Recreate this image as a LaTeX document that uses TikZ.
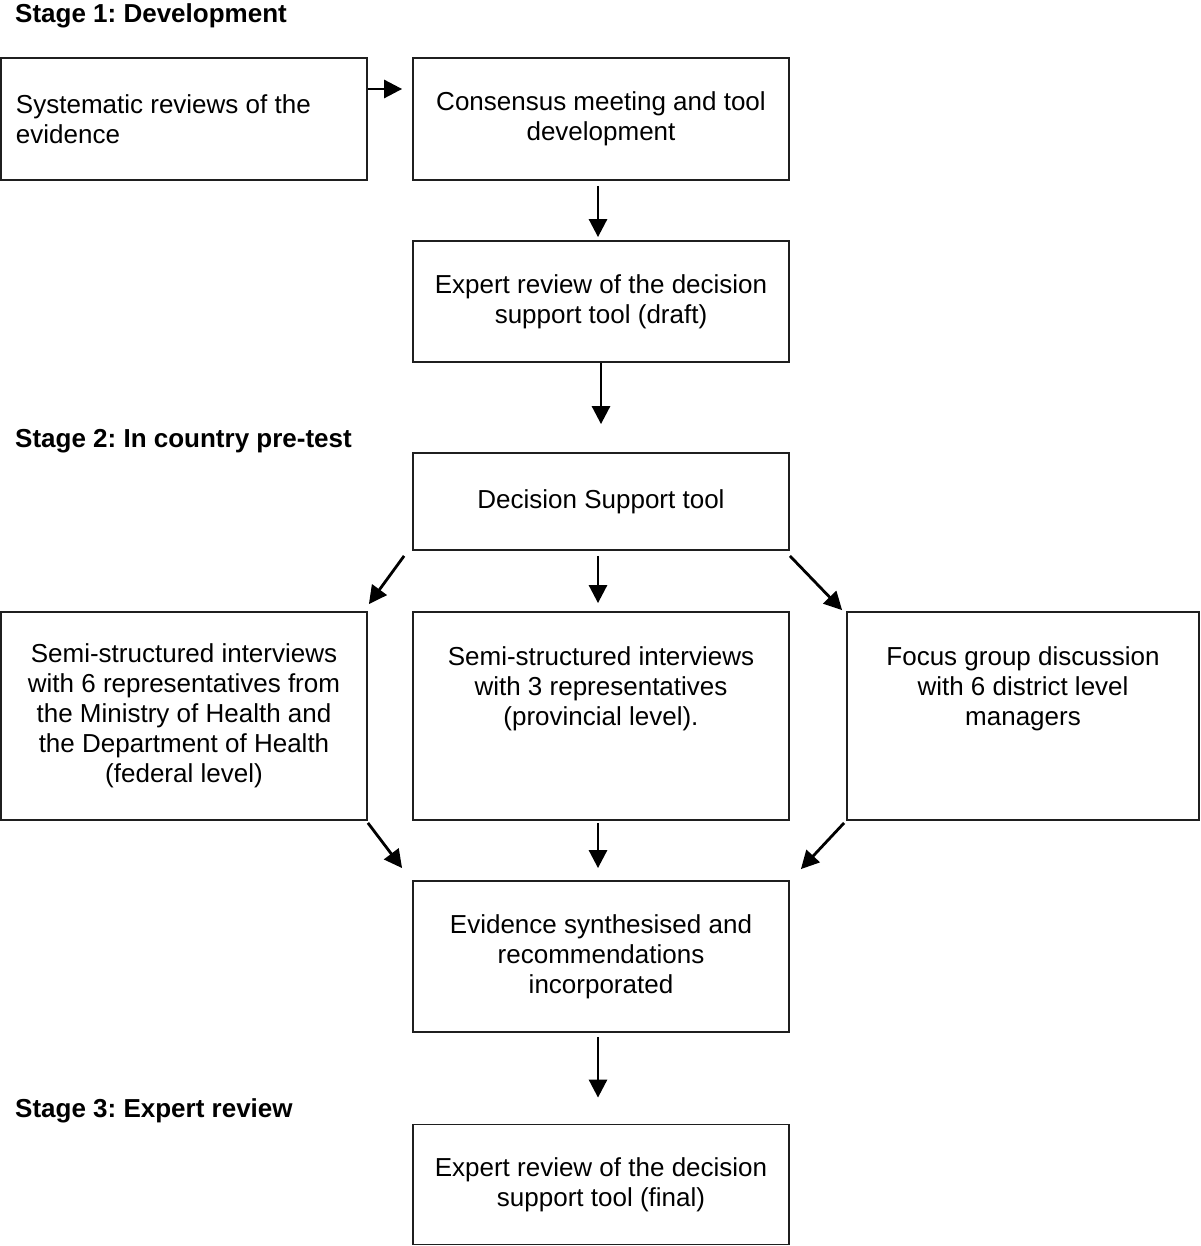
\documentclass[tikz,border=0pt]{standalone}
\usepackage{fontspec}
\setmainfont{Liberation Sans}
\usetikzlibrary{arrows.meta}
\frenchspacing
\begin{document}
\begin{tikzpicture}[x=1pt,y=-1pt,
  box/.style={draw=black!88, line width=1.8pt, rectangle, inner sep=0pt,
    font=\fontsize{26}{30}\selectfont, align=center},
  arr/.style={draw=black, line width=2.8pt, -{Triangle[length=18pt,width=18pt]}},
  stagelabel/.style={font=\fontsize{26}{30}\selectfont\bfseries, anchor=base west, inner sep=0pt}]
\useasboundingbox (0,0) rectangle (1200,1246);

\node[stagelabel] (s1) at (15,23) {Stage 1: Development};
\node[stagelabel] (s2) at (15,447) {Stage 2: In country pre-test};
\node[stagelabel] (s3) at (15,1117) {Stage 3: Expert review};

\node[box, minimum width=366, minimum height=122, text width=336, align=flush left] (A) at (184,119)
  {Systematic reviews of the\\evidence};
\node[box, minimum width=376, minimum height=122] (B) at (601,119)
  {Consensus meeting and tool\\development};
\node[box, minimum width=376, minimum height=121] (C) at (601,301.5)
  {Expert review of the decision\\support tool (draft)};
\node[box, minimum width=376, minimum height=97] (D) at (601,501.5)
  {Decision Support tool};
\node[box, minimum width=366, minimum height=208] (E) at (184,716)
  {Semi-structured interviews\\with 6 representatives from\\the Ministry of Health and\\the Department of Health\\(federal level)};
\node[box, minimum width=376, minimum height=208] (F) at (601,716)
  {Semi-structured interviews\\with 3 representatives\\(provincial level).\\\mbox{}\\\mbox{}};
\node[box, minimum width=352, minimum height=208] (G) at (1023,716)
  {Focus group discussion\\with 6 district level\\managers\\\mbox{}\\\mbox{}};
\node[box, minimum width=376, minimum height=151] (H) at (601,956.5)
  {Evidence synthesised and\\recommendations\\incorporated};
\node[box, minimum width=376, minimum height=120] (I) at (601,1184.5)
  {Expert review of the decision\\support tool (final)};

\draw[arr] ([yshift=30pt]A.east) -- ([yshift=30pt,xshift=-10pt]B.west);
\draw[arr] ([xshift=-3pt,yshift=-5pt]B.south) -- ([xshift=-3pt,yshift=3pt]C.north);
\draw[arr] (C.south) -- ([yshift=28pt]D.north);
\draw[arr] ([xshift=-3pt,yshift=-5pt]D.south) -- ([xshift=-3pt,yshift=8pt]F.north);
\draw[arr] ([xshift=-8pt,yshift=-5pt]D.south west) -- ([xshift=1pt,yshift=7pt]E.north east);
\draw[arr] ([yshift=-5pt]D.south east) -- ([xshift=-4pt,yshift=1pt]G.north west);
\draw[arr] ([yshift=-2pt]E.south east) -- ([xshift=-10pt,yshift=12pt]H.north west);
\draw[arr] ([xshift=-3pt,yshift=-2pt]F.south) -- ([xshift=-3pt,yshift=12pt]H.north);
\draw[arr] ([xshift=-2pt,yshift=-2pt]G.south west) -- ([xshift=11pt,yshift=11pt]H.north east);
\draw[arr] ([xshift=-3pt,yshift=-4pt]H.south) -- ([xshift=-3pt,yshift=26pt]I.north);
\end{tikzpicture}
\end{document}
